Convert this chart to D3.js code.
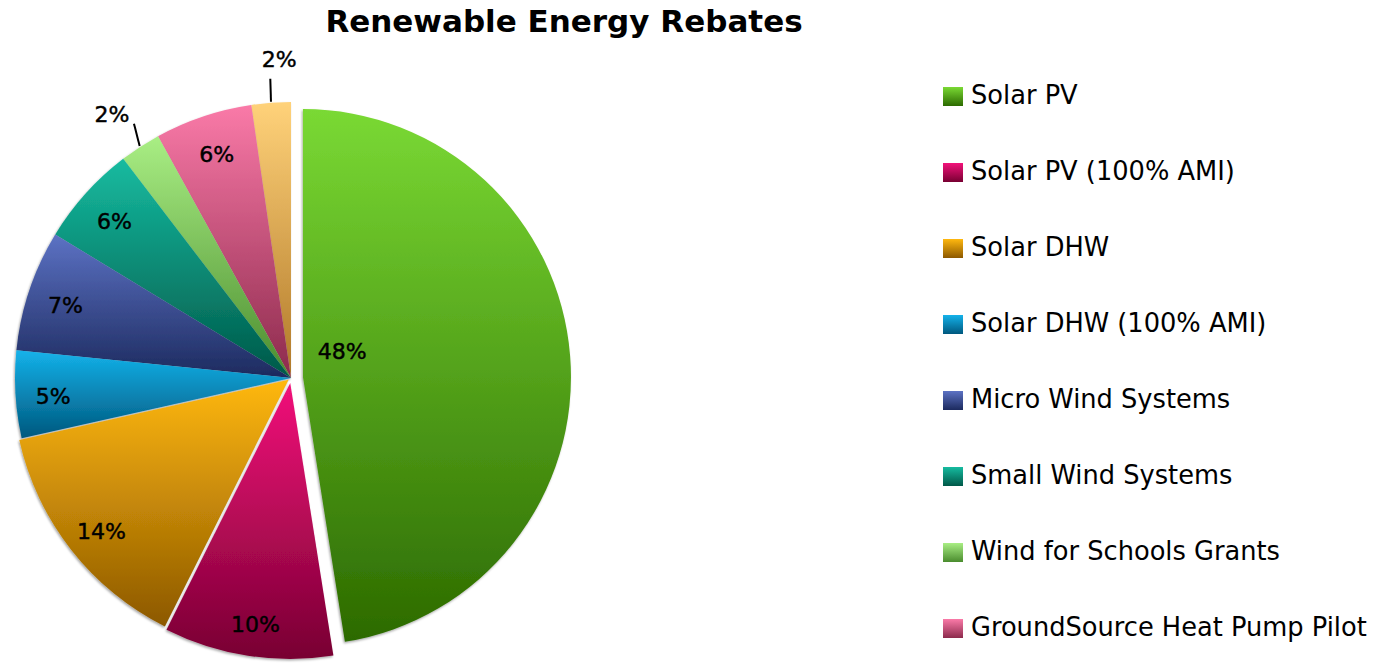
<!DOCTYPE html>
<html>
<head>
<meta charset="utf-8">
<script src="https://cdn.jsdelivr.net/npm/d3@7"></script>
<style>
  html, body { margin: 0; padding: 0; background: #fff; }
  svg { display: block; }
</style>
</head>
<body>
<script>
// ---- data ----
const categories = ["Solar PV", "Solar PV (100% AMI)", "Solar DHW", "Solar DHW (100% AMI)",
  "Micro Wind Systems", "Small Wind Systems", "Wind for Schools Grants",
  "GroundSource Heat Pump Pilot", "Other"];
const values = [47.5, 9.9, 14.1, 5.1, 7.1, 5.9, 2.4, 5.7, 2.3];
const title = "Renewable Energy Rebates";

// ---- style ----
const colorTop = ["#7ad934", "#f2127a", "#ffb80f", "#14b2ea", "#5c72c4", "#16bba0", "#a9ee84", "#fa7aa8", "#ffd27a"];
const colorBottom = ["#2c6a00", "#780032", "#8c5800", "#00587e", "#1c2a5e", "#005848", "#4a8c2e", "#8c2a4c", "#b07828"];
const explode = [12, 5, 3, 0, 0, 0, 0, 0, 0];
const radiusScale = [0.971, 1, 1, 1, 1, 1, 1, 1, 1];

const W = 1382, H = 663;
const cx = 291, cy = 378, R = 276;
const FONT = "'DejaVu Sans', Verdana, sans-serif";

const svg = d3.select("body").append("svg").attr("width", W).attr("height", H);
const defs = svg.append("defs");

categories.forEach((c, i) => {
  const g = defs.append("linearGradient").attr("id", "grad" + i)
    .attr("x1", 0).attr("y1", 0).attr("x2", 0).attr("y2", 1);
  g.append("stop").attr("offset", "0%").attr("stop-color", colorTop[i]);
  g.append("stop").attr("offset", "100%").attr("stop-color", colorBottom[i]);
});

const f = defs.append("filter").attr("id", "shadow")
  .attr("x", "-20%").attr("y", "-20%").attr("width", "140%").attr("height", "140%");
f.append("feDropShadow").attr("dx", -1).attr("dy", 1.5).attr("stdDeviation", 1.2)
  .attr("flood-color", "#000").attr("flood-opacity", 0.35);

// title
svg.append("text")
  .attr("x", 564).attr("y", 32)
  .attr("text-anchor", "middle")
  .attr("font-family", FONT)
  .attr("font-weight", "bold")
  .attr("font-size", 31)
  .attr("fill", "#000")
  .text(title);

// pie
const pie = d3.pie().sort(null).value(d => d)(values);
const total = d3.sum(values);

const gPie = svg.append("g").attr("transform", `translate(${cx},${cy})`);

function bis(d) { return (d.startAngle + d.endAngle) / 2; }

const order = d3.range(pie.length).reverse();
order.forEach(i => {
  const d = pie[i];
  const a = bis(d);
  const ox = explode[i] * Math.sin(a), oy = -explode[i] * Math.cos(a);
  const arc = d3.arc().innerRadius(0).outerRadius(R * radiusScale[i]);
  gPie.append("path")
    .attr("d", arc(d))
    .attr("transform", `translate(${ox},${oy})`)
    .attr("fill", `url(#grad${i})`)
    .attr("filter", "url(#shadow)");
});

// labels
const labelFont = 22;
function label(x, y, t) {
  gPie.append("text")
    .attr("x", x).attr("y", y)
    .attr("dy", "0.35em").attr("text-anchor", "middle")
    .attr("font-family", FONT).attr("font-size", labelFont).attr("fill", "#000")
    .attr("stroke", "#000").attr("stroke-width", 0.45)
    .text(t);
}
pie.forEach((d, i) => {
  const a = bis(d);
  const ox = explode[i] * Math.sin(a), oy = -explode[i] * Math.cos(a);
  const pct = Math.round(values[i] / total * 100) + "%";
  if (i === 0) {
    // large slice: label placed near the centre
    const la = a - 0.5, lr = 47;
    label(ox + lr * Math.sin(la), oy - lr * Math.cos(la), pct);
  } else if (values[i] / total < 0.03) {
    const r1 = R + 1;
    const x1 = ox + r1 * Math.sin(a), y1 = oy - r1 * Math.cos(a);
    let an = a > Math.PI ? a - 2 * Math.PI : a;
    const la = an * 0.43, len = 23;
    const x2 = x1 + len * Math.sin(la), y2 = y1 - len * Math.cos(la);
    gPie.append("line").attr("x1", x1).attr("y1", y1).attr("x2", x2).attr("y2", y2)
      .attr("stroke", "#000").attr("stroke-width", 2);
    const top = Math.abs(Math.sin(a)) < 0.2;
    label(top ? x2 + 9 : x2 - 22, top ? y2 - 19 : y2 - 9, pct);
  } else {
    const lr = R * 0.87;
    label(ox + lr * Math.sin(a) + 2, oy - lr * Math.cos(a) + 4, pct);
  }
});

// legend
const legY = d3.scaleLinear().domain([0, 1]).range([87, 163]);
const gLeg = svg.append("g");
categories.forEach((c, i) => {
  const y = legY(i);
  if (y + 20 > H) return;
  gLeg.append("rect").attr("x", 943).attr("y", y).attr("width", 20).attr("height", 19)
    .attr("fill", `url(#grad${i})`);
  gLeg.append("text").attr("x", 971).attr("y", y + 16.5)
    .attr("font-family", FONT).attr("font-size", 25.7).attr("fill", "#000")
    .text(c);
});
</script>
</body>
</html>
